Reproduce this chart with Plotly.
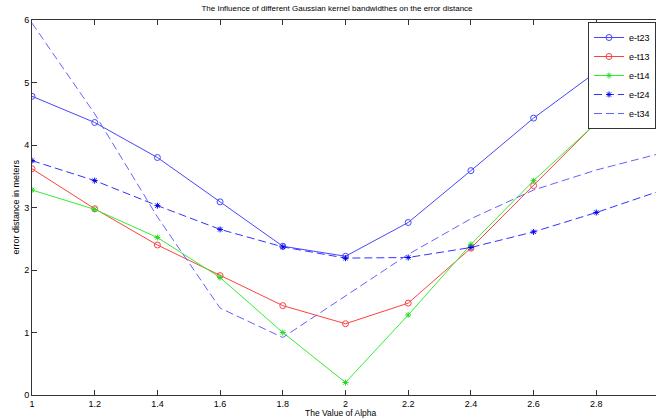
import plotly.graph_objects as go

alpha = [1.0, 1.2, 1.4, 1.6, 1.8, 2.0, 2.2, 2.4, 2.6, 2.8, 3.0]
e_t23 = [4.78, 4.36, 3.80, 3.09, 2.38, 2.22, 2.76, 3.59, 4.43, 5.17, 5.80]
e_t13 = [3.62, 2.98, 2.40, 1.91, 1.43, 1.14, 1.47, 2.35, 3.35, 4.36, 5.30]
e_t14 = [3.28, 2.97, 2.52, 1.88, 1.00, 0.20, 1.28, 2.41, 3.43, 4.35, 5.15]
e_t24 = [3.75, 3.43, 3.03, 2.65, 2.37, 2.19, 2.20, 2.36, 2.61, 2.92, 3.26]
e_t34 = [5.95, 4.50, 2.85, 1.39, 0.92, 1.58, 2.25, 2.82, 3.28, 3.60, 3.86]

x_ticks = [1, 1.2, 1.4, 1.6, 1.8, 2, 2.2, 2.4, 2.6, 2.8]
x_tick_text = ["1", "1.2", "1.4", "1.6", "1.8", "2", "2.2", "2.4", "2.6", "2.8"]
y_ticks = [0, 1, 2, 3, 4, 5, 6]

FONT = "Liberation Sans Narrow, Arial, Liberation Sans, sans-serif"

fig = go.Figure()
fig.add_trace(go.Scatter(x=alpha, y=e_t23, name="e-t23", mode="lines+markers",
                         line=dict(color="#4646ff", width=1),
                         marker=dict(symbol="circle-open", size=6, color="#4646ff", line=dict(width=1))))
fig.add_trace(go.Scatter(x=alpha, y=e_t13, name="e-t13", mode="lines+markers",
                         line=dict(color="#ff4040", width=1),
                         marker=dict(symbol="circle-open", size=6, color="#ff4040", line=dict(width=1))))
fig.add_trace(go.Scatter(x=alpha, y=e_t14, name="e-t14", mode="lines+markers",
                         line=dict(color="#33ee33", width=1),
                         marker=dict(symbol="asterisk-open", size=5, color="#22dd22", line=dict(width=1, color="#22dd22"))))
fig.add_trace(go.Scatter(x=alpha, y=e_t24, name="e-t24", mode="lines+markers",
                         line=dict(color="#3333ff", width=1, dash="8px,4px"),
                         marker=dict(symbol="asterisk-open", size=5, color="#0000ee", line=dict(width=1, color="#0000ee"))))
fig.add_trace(go.Scatter(x=alpha, y=e_t34, name="e-t34", mode="lines",
                         line=dict(color="#6262ff", width=1, dash="8px,4px")))

fig.update_layout(
    width=656, height=420,
    margin=dict(l=32, r=0, t=20, b=25),
    paper_bgcolor="white", plot_bgcolor="white",
    font=dict(family=FONT, size=9, color="black"),
    title=dict(text="The Influence of different Gaussian kernel bandwidthes on the error distance",
               x=(337 / 656), xanchor="center", y=1 - 8 / 420, yanchor="middle",
               font=dict(family=FONT, size=8, color="black")),
    showlegend=True,
    legend=dict(x=1.0, xanchor="right", y=(395 - 22) / 375, yanchor="top",
                bgcolor="white", bordercolor="#333333", borderwidth=1,
                font=dict(family=FONT, size=9, color="black"),
                itemwidth=30, tracegroupgap=0),
    xaxis=dict(range=[1, 1 + (656 - 32) / 313.5], tickvals=x_ticks, ticktext=x_tick_text,
               ticks="inside", ticklen=5, tickcolor="#333333", showgrid=False, zeroline=False,
               showline=True, linecolor="#333333", linewidth=1, mirror="ticks",
               tickfont=dict(size=9)),
    yaxis=dict(range=[0, 6], tickvals=y_ticks, ticks="inside", ticklen=5, tickcolor="#333333",
               showgrid=False, zeroline=False, showline=True, linecolor="#333333", linewidth=1,
               tickfont=dict(size=9)),
    annotations=[
        dict(text="The Value of Alpha", xref="paper", yref="paper", x=(340 - 32) / 624, y=0,
             yshift=-18, showarrow=False, xanchor="center", yanchor="middle",
             font=dict(family=FONT, size=8.5, color="black")),
        dict(text="error distance in meters", xref="paper", yref="paper", x=0, y=0.5,
             xshift=-17, showarrow=False, textangle=-90, xanchor="center", yanchor="middle",
             font=dict(family=FONT, size=9, color="black")),
    ],
)

fig.write_html("out.html", config={"displayModeBar": False},
               post_script="document.body.style.margin='0';document.documentElement.style.overflow='hidden';")
